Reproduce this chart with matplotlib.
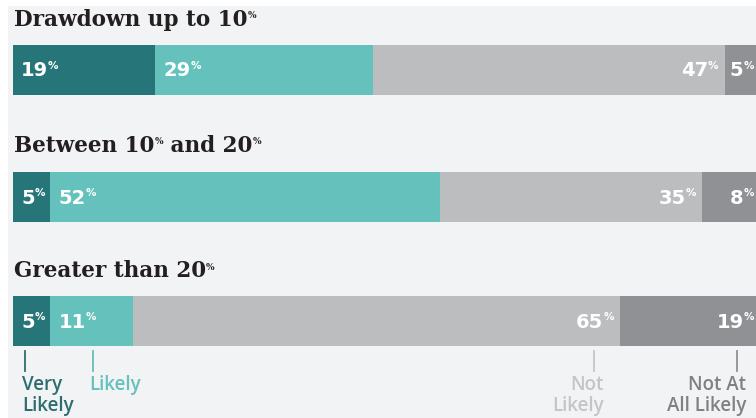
import matplotlib
matplotlib.use("Agg")
import matplotlib.pyplot as plt
from matplotlib.patches import Rectangle

titles = [[("Drawdown up to 10", False), ("%", True)],
          [("Between 10", False), ("%", True), (" and 20", False), ("%", True)],
          [("Greater than 20", False), ("%", True)]]
categories = ["Very Likely", "Likely", "Not Likely", "Not At All Likely"]
values = [[19, 29, 47, 5],
          [5, 52, 35, 8],
          [5, 11, 65, 19]]
colors = ["#267578", "#64c1bb", "#bcbdbf", "#8f9194"]
legend_labels = ["Very\nLikely", "Likely", "Not\nLikely", "Not At\nAll Likely"]
legend_colors = ["#2c6e70", "#64c1bb", "#c4c5c7", "#7f8184"]

W, H = 756, 418
fig = plt.figure(figsize=(W / 100, H / 100), dpi=100)
fig.patch.set_facecolor("white")
fig.patches.append(Rectangle((8 / W, 0), 1, 1 - 6 / H, transform=fig.transFigure,
                             facecolor="#f2f3f5", edgecolor="none", zorder=-10))

x0, x1 = 13, 762
ax = fig.add_axes([x0 / W, 0, (x1 - x0) / W, 1])
ax.set_xlim(0, 100)
ax.set_ylim(H, 0)
ax.axis("off")
ax.patch.set_alpha(0)

def px(x):
    return (x - x0) / (x1 - x0) * 100

bar_tops = [45, 172, 296]
bar_h = 50
title_y = [20, 146, 271]

renderer = fig.canvas.get_renderer()

def width_of(t):
    bb = t.get_window_extent(renderer=renderer)
    return bb.width / (x1 - x0) * 100

def seq_text(x, y, parts, size, supsize, color, family, weight, ha="left", raise_px=None):
    objs = []
    for s, sup in parts:
        dy = (raise_px if raise_px is not None else size * 0.32) if sup else 0
        t = ax.text(0, y - dy, s, fontsize=supsize if sup else size,
                    color=color, family=family, weight=weight, ha="left", va="center",
                    clip_on=False)
        objs.append(t)
    widths = [width_of(t) for t in objs]
    total = sum(widths)
    start = x if ha == "left" else x - total
    for t, w in zip(objs, widths):
        t.set_x(start)
        start += w

for r, vals in enumerate(values):
    left = 0
    yc = bar_tops[r] + bar_h / 2 + 1
    for i, v in enumerate(vals):
        ax.barh(yc - 1, v, left=left, height=bar_h, color=colors[i], edgecolor="none")
        parts = [(str(v), False), ("%", True)]
        if i < 2:
            seq_text(left + px(x0 + 8), yc, parts, 14, 7.5, "white", "DejaVu Sans", "bold", "left", 5)
        elif i == 2:
            seq_text(left + v - px(x0 + 6), yc, parts, 14, 7.5, "white", "DejaVu Sans", "bold", "right", 5)
        else:
            seq_text(px(754), yc, parts, 14, 7.5, "white", "DejaVu Sans", "bold", "right", 5)
        left += v
    seq_text(px(14), title_y[r], titles[r], 15.5, 6.5, "#231f20", "DejaVu Serif", "bold", "left", 4)

# legend ticks and labels
tick_x = [25, 93, 594, 737]
lab_x = [22, 89, 604, 746]
lab_ha = ["left", "left", "right", "right"]
tick_colors = ["#2c6e70", "#64c1bb", "#c4c5c7", "#8f9194"]
for i in range(4):
    ax.plot([px(tick_x[i])] * 2, [351, 371], color=tick_colors[i], lw=1.3, clip_on=False)
    ax.text(px(lab_x[i]), 375, legend_labels[i], ha=lab_ha[i], va="top", fontsize=13.5,
            family="Open Sans", weight="semibold", color=legend_colors[i],
            linespacing=1.05, clip_on=False)

fig.savefig("out.png", dpi=100, facecolor=fig.get_facecolor())
